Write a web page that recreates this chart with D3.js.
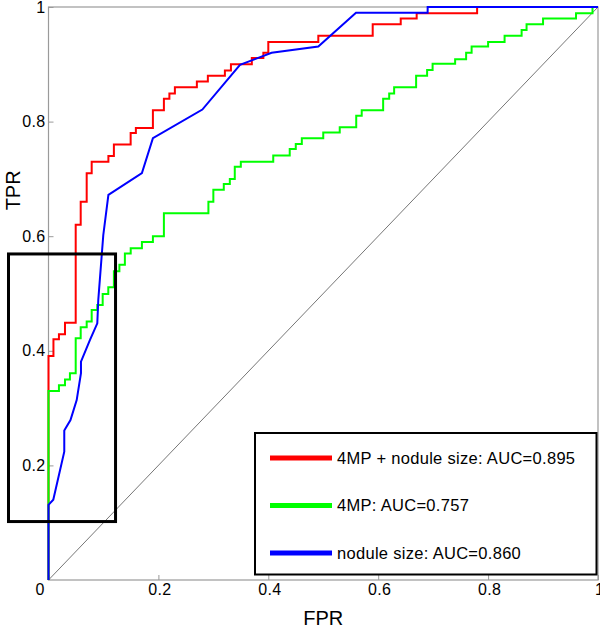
<!DOCTYPE html>
<html>
<head>
<meta charset="utf-8">
<script src="https://cdn.jsdelivr.net/npm/d3@7"></script>
<style>
  html, body { margin: 0; padding: 0; background: #fff; }
  svg { display: block; font-family: "Liberation Sans", Arial, Helvetica, sans-serif; }
</style>
</head>
<body>
<svg id="chart" width="600" height="630"></svg>
<script>
// ---- data ----
const tickValues = [0, 0.2, 0.4, 0.6, 0.8, 1];
const tickLabels = ["0", "0.2", "0.4", "0.6", "0.8", "1"];

// 4MP + nodule size (step ROC: each point = end of horizontal run at that TPR level)
const redFPR = [0, .009, .019, .030, .0495, .0586, .0695, .0786, .109, .119, .1495, .159, .19, .21, .22, .23, .27, .29, .321, .332, .37, .391, .40, .491, .59, .641, .67, .78, 1];
const redTPR = [0, .391, .42, .429, .449, .62, .66, .71, .73, .74, .76, .78, .789, .82, .84, .849, .86, .87, .88, .889, .90, .911, .92, .939, .95, .97, .98, .989, 1];

// 4MP
const greenFPR = [0, .019, .030, .039, .0495, .0586, .0695, .0786, .0888, .0986, .1088, .119, .129, .139, .1496, .170, .190, .210, .291, .300, .319, .330, .339, .350, .409, .439, .450, .461, .500, .530, .560, .570, .609, .620, .629, .669, .689, .699, .740, .760, .770, .800, .830, .861, .870, .900, .960, .990, 1];
const greenTPR = [0, .330, .340, .350, .361, .422, .441, .451, .471, .480, .499, .511, .539, .550, .570, .579, .590, .600, .640, .660, .681, .691, .700, .721, .730, .741, .752, .761, .771, .781, .790, .810, .820, .840, .849, .860, .880, .890, .901, .909, .920, .931, .939, .950, .960, .970, .980, .989, 1];

// nodule size (polyline)
const blueFPR = [0, 0, .0087, .0287, .0287, .040, .0513, .0591, .0591, .0755, .0888, .0906, .0997, .109, .170, .190, .280, .3485, .406, .491, .5596, .690, .690, 1];
const blueTPR = [0, .131, .140, .224, .261, .279, .314, .361, .381, .419, .448, .489, .602, .672, .710, .771, .821, .899, .920, .931, .990, .990, 1, 1];

const seriesNames = ["4MP + nodule size: AUC=0.895", "4MP: AUC=0.757", "nodule size: AUC=0.860"];
const seriesColors = ["#ff0000", "#00ff00", "#0000ff"];

// highlighted region (data units)
const boxFPR = [-0.0728, 0.122];
const boxTPR = [0.102, 0.569];

// ---- drawing ----
const svg = d3.select("#chart");
const x = d3.scaleLinear().domain([0, 1]).range([48.5, 598]);
const y = d3.scaleLinear().domain([0, 1]).range([580, 7]);

const zip = (a, b) => a.map((v, i) => [v, b[i]]);

// frame
svg.append("rect")
  .attr("x", x(0)).attr("y", y(1))
  .attr("width", x(1) - x(0)).attr("height", y(0) - y(1))
  .attr("fill", "none").attr("stroke", "#9a9a9a").attr("stroke-width", 1.2);

// axes (inward ticks)
const xAxis = d3.axisBottom(x).tickValues(tickValues).tickFormat((d, i) => tickLabels[i])
  .tickSizeInner(-5).tickSizeOuter(0).tickPadding(10);
const gx = svg.append("g").attr("transform", `translate(0,${y(0)})`).call(xAxis);
const yAxis = d3.axisLeft(y).tickValues(tickValues).tickFormat((d, i) => tickLabels[i])
  .tickSizeInner(-5).tickSizeOuter(0).tickPadding(3);
const gy = svg.append("g").attr("transform", `translate(${x(0)},0)`).call(yAxis);

[gx, gy].forEach(g => {
  g.select(".domain").remove();
  g.selectAll(".tick line").attr("stroke", "#9a9a9a");
  g.selectAll(".tick text").attr("fill", "#000").style("font-size", "16px")
    .style("letter-spacing", "0.3px")
    .style("font-family", '"Liberation Sans", Arial, sans-serif');
});
gy.selectAll(".tick").filter(d => d === 0).remove();
gx.selectAll(".tick text").attr("dx", d => d === 0 ? -9 : 1).attr("y", 4).attr("dy", "0.71em");

// axis titles
svg.append("text").attr("x", x(0.5)).attr("y", 625).attr("text-anchor", "middle")
  .style("font-size", "20px").text("FPR");
svg.append("text").attr("transform", `translate(20,${y(0.68)}) rotate(-90)`)
  .attr("text-anchor", "middle").style("font-size", "20px").text("TPR");

// chance diagonal
svg.append("line").attr("x1", x(0)).attr("y1", y(0)).attr("x2", x(1)).attr("y2", y(1))
  .attr("stroke", "#666").attr("stroke-width", 0.9);

// curves
const stepLine = d3.line().x(d => x(d[0])).y(d => y(d[1])).curve(d3.curveStepBefore);
const polyLine = d3.line().x(d => x(d[0])).y(d => y(d[1]));

svg.append("path").datum(zip(redFPR, redTPR)).attr("d", stepLine)
  .attr("fill", "none").attr("stroke", seriesColors[0]).attr("stroke-width", 2);
svg.append("path").datum(zip(greenFPR, greenTPR)).attr("d", stepLine)
  .attr("fill", "none").attr("stroke", seriesColors[1]).attr("stroke-width", 2);
svg.append("path").datum(zip(blueFPR, blueTPR)).attr("d", polyLine)
  .attr("fill", "none").attr("stroke", seriesColors[2]).attr("stroke-width", 2);

// highlight box
svg.append("rect")
  .attr("x", x(boxFPR[0])).attr("y", y(boxTPR[1]))
  .attr("width", x(boxFPR[1]) - x(boxFPR[0])).attr("height", y(boxTPR[0]) - y(boxTPR[1]))
  .attr("fill", "none").attr("stroke", "#000").attr("stroke-width", 3);

// legend
const lg = svg.append("g").attr("transform", "translate(255,433)");
lg.append("rect").attr("width", 341.5).attr("height", 141.5)
  .attr("fill", "#fff").attr("stroke", "#000").attr("stroke-width", 2);
seriesNames.forEach((name, i) => {
  const yy = 25 + i * 47.5;
  lg.append("line").attr("x1", 15).attr("x2", 77).attr("y1", yy).attr("y2", yy)
    .attr("stroke", seriesColors[i]).attr("stroke-width", 5);
  lg.append("text").attr("x", 82).attr("y", yy).attr("dy", "0.36em")
    .style("font-size", "16.5px").style("letter-spacing", "0.3px").text(name);
});
</script>
</body>
</html>
